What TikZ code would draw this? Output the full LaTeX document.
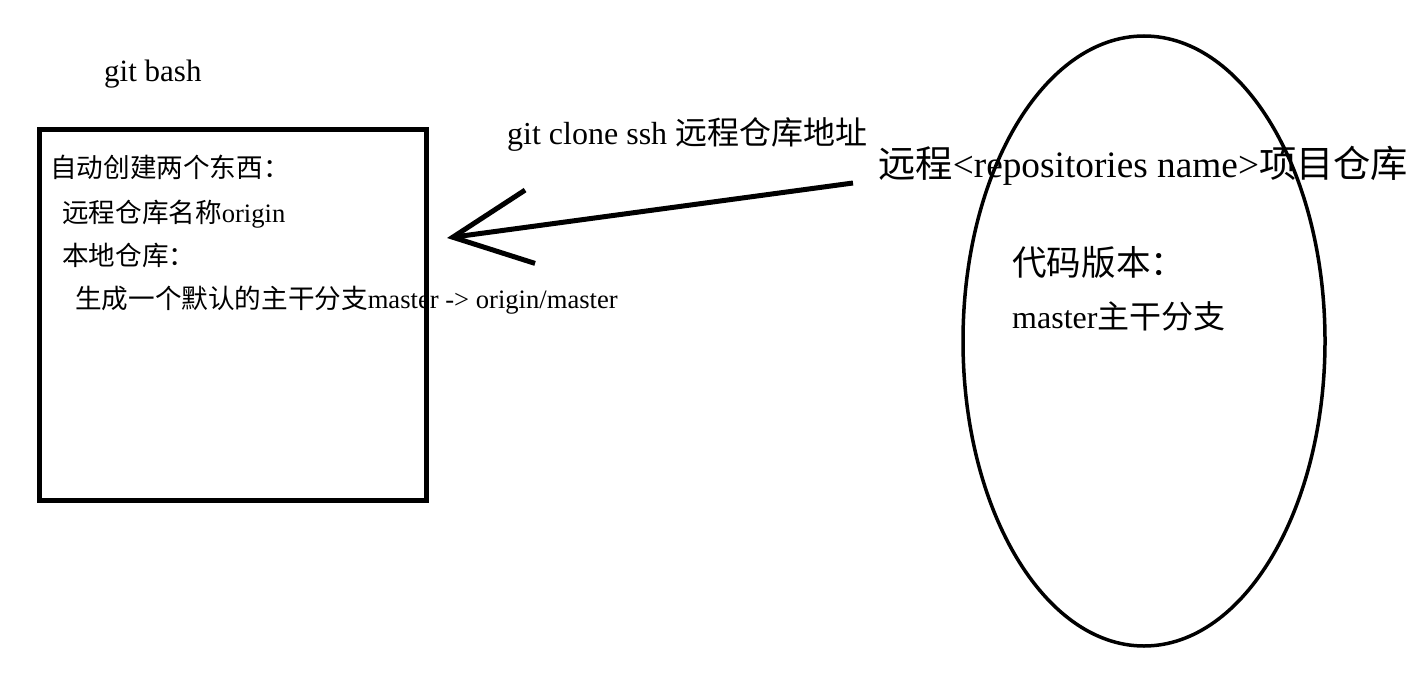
\documentclass[tikz,border=0pt]{standalone}
\usepackage{fontspec}
\setmainfont{Liberation Serif}
\newfontfamily\cjk{Noto Sans CJK SC}
\usetikzlibrary{arrows.meta}
\usetikzlibrary{shapes.geometric}
\newcommand{\zh}[1]{{\cjk #1}}

\begin{document}
\begin{tikzpicture}[%
    x=1pt, y=-1pt,
    box/.style={
      rectangle,
      draw=black,
      line width=5pt,
      minimum width=387pt,
      minimum height=370pt
    },
    repo/.style={
      ellipse,
      draw=black,
      line width=3.5pt,
      minimum width=362pt,
      minimum height=610pt
    },
    txt/.style={anchor=base west, inner sep=0pt},
    small/.style={txt, font=\fontsize{26.6}{30}\selectfont},
    big/.style={txt, font=\fontsize{32}{38}\selectfont},
    >={Straight Barb[length=78pt, width=74pt]}
    ]
    \useasboundingbox (0,0) rectangle (1426,674);
    \draw (232.5,315) node[box] (local) {};
    \draw (1144,341) node[repo] (remote) {};

    \node[txt, font=\fontsize{31}{36}\selectfont] (shell) at (104,82) {git bash};
    \node[small] (line1) at (50,177) {\zh{自动创建两个东西：}};
    \node[small] (line2) at (62,222) {\zh{远程仓库名称}origin};
    \node[small] (line3) at (62,265) {\zh{本地仓库：}};
    \node[small] (line4) at (75,308) {\zh{生成一个默认的主干分支}master -> origin/master};

    \node[big] (cmd) at (507,145) {git clone ssh \zh{远程仓库地址}};
    \node[txt, font=\fontsize{37.3}{44}\selectfont] (title) at (878,177) {\zh{远程}<repositories name>\zh{项目仓库}};
    \node[txt, font=\fontsize{34.6}{40}\selectfont] (version) at (1012,275) {\zh{代码版本：}};
    \node[big] (branch) at (1012,328) {master\zh{主干分支}};

    \coordinate (tail) at (853,183);
    \coordinate (tip) at (447,238);
    \draw [->, line width=5pt] (tail) -- (tip);
  \end{tikzpicture}
\end{document}
